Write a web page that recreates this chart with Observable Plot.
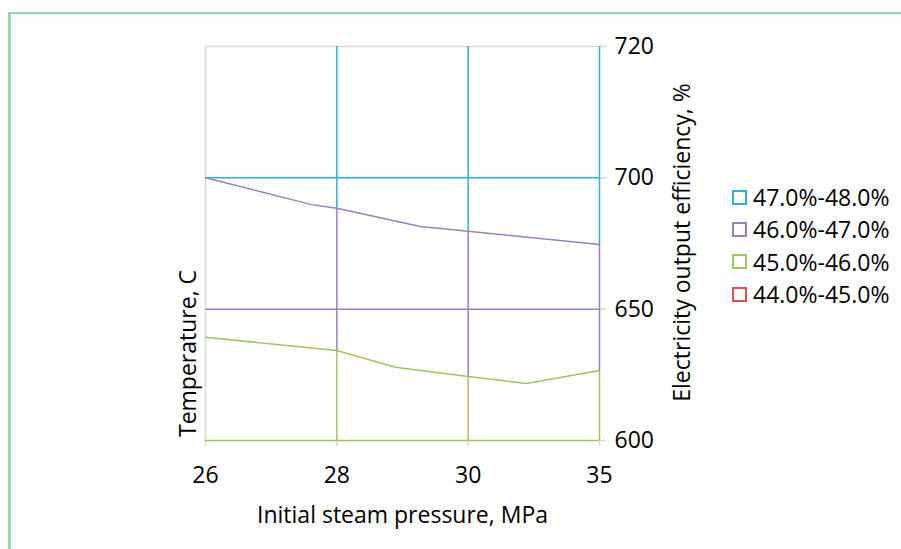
<!DOCTYPE html>
<html>
<head>
<meta charset="utf-8">
<script src="https://cdn.jsdelivr.net/npm/d3@7"></script>
<script src="https://cdn.jsdelivr.net/npm/@observablehq/plot@0.6"></script>
<style>
  html, body { margin: 0; padding: 0; background: #fff; }
  #wrap { position: relative; width: 901px; height: 549px; overflow: hidden; font-family: "Open Sans", sans-serif; }
  #frame { position: absolute; left: 8px; top: 12px; right: -10px; bottom: -10px; border-left: 3px solid #93d8b0; border-top: 2px solid #93d8b0; }
  #chart { position: absolute; left: 0; top: 0; }
  #legend { position: absolute; left: 732px; top: 181px; }
  .item { display: flex; align-items: center; height: 32.3px; font-size: 23px; color: #000; white-space: nowrap; }
  .sw { width: 11px; height: 11px; border: 2px solid; margin-right: 6px; flex: none; }
</style>
</head>
<body>
<div id="wrap">
  <div id="frame"></div>
  <div id="chart"></div>
  <div id="legend"></div>
</div>
<script>
// Category axes (evenly spaced, as in the original surface chart)
const pressureLabels = [26, 28, 30, 35];          // x categories, MPa
const temperatureLabels = [600, 650, 700, 720];   // y categories, C

// Legend bands
const bandNames = ["47.0%-48.0%", "46.0%-47.0%", "45.0%-46.0%", "44.0%-45.0%"];
const bandColors = ["#27b4d4", "#9b7ec0", "#9bc75e", "#e05252"];

// Contour between 47-48% and 46-47% bands (x, y in category-index units)
const upperX = [0, 0.807, 1, 1.636, 2, 3];
const upperY = [2.0, 1.796, 1.768, 1.629, 1.594, 1.492];
// Contour between 46-47% and 45-46% bands
const lowerX = [0, 1, 1.446, 2, 2.443, 3];
const lowerY = [0.786, 0.685, 0.558, 0.487, 0.434, 0.533];

const xIdx = pressureLabels.map((d, i) => i);
const yIdx = temperatureLabels.map((d, i) => i);
const yTop = yIdx[yIdx.length - 1];
const xEnd = xIdx[xIdx.length - 1];

const upper = upperX.map((x, i) => ({x, y: upperY[i]}));
const lower = lowerX.map((x, i) => ({x, y: lowerY[i]}));
const at = (xs, ys, v) => ys[xs.indexOf(v)];

// coloured wireframe: vertical grid segments split by contours
const vSegs = [];
xIdx.slice(1).forEach(i => {
  const u = at(upperX, upperY, i), l = at(lowerX, lowerY, i);
  vSegs.push({x: i, y1: yTop, y2: u, c: bandColors[0]});
  vSegs.push({x: i, y1: u, y2: l, c: bandColors[1]});
  vSegs.push({x: i, y1: l, y2: 0, c: bandColors[2]});
});
// horizontal grid rows: 700 -> band 0, 650 -> band 1, 600 -> band 2
const hSegs = [
  {y: 2, c: bandColors[0]},
  {y: 1, c: bandColors[1]},
  {y: 0, c: bandColors[2]}
];

const grey = "#d9d9d9";
const chart = Plot.plot({
  width: 901,
  height: 549,
  marginLeft: 205,
  marginRight: 302,
  marginTop: 46,
  marginBottom: 109,
  x: {domain: [0, xEnd], axis: null},
  y: {domain: [0, yTop], axis: null},
  style: {fontFamily: "Open Sans, sans-serif", fontSize: "23px", color: "#000", background: "transparent"},
  marks: [
    Plot.ruleX([0], {y1: 0, y2: yTop, stroke: grey, strokeWidth: 1.5}),
    Plot.ruleY([yTop], {x1: 0, x2: xEnd, stroke: grey, strokeWidth: 1.5}),
    Plot.axisX(xIdx, {anchor: "bottom", tickSize: 6, tickPadding: 20, stroke: grey, strokeWidth: 1.5, fill: "#000",
      tickFormat: i => String(pressureLabels[i]), fontSize: 23, label: null}),
    Plot.axisY(yIdx, {anchor: "right", tickSize: 6, tickPadding: 9, stroke: grey, strokeWidth: 1.5, fill: "#000",
      tickFormat: i => String(temperatureLabels[i]), fontSize: 23, label: null}),
    Plot.ruleY(hSegs, {y: "y", x1: 0, x2: xEnd, stroke: "c", strokeWidth: 1.5}),
    Plot.ruleX(vSegs, {x: "x", y1: "y1", y2: "y2", stroke: "c", strokeWidth: 1.5}),
    Plot.line(upper, {x: "x", y: "y", stroke: bandColors[1], strokeWidth: 1.5}),
    Plot.line(lower, {x: "x", y: "y", stroke: bandColors[2], strokeWidth: 1.5}),
    Plot.text(["Initial steam pressure, MPa"], {frameAnchor: "bottom", textAnchor: "middle", lineAnchor: "middle",
      dy: 75, fill: "#000", fontSize: 23}),
    Plot.text(["Temperature, C"], {frameAnchor: "left", textAnchor: "middle", lineAnchor: "middle",
      dx: -17, dy: 110, rotate: -90, fill: "#000", fontSize: 23}),
    Plot.text(["Electricity output efficiency, %"], {frameAnchor: "right", textAnchor: "middle", lineAnchor: "middle",
      dx: 83, dy: -1, rotate: -90, fill: "#000", fontSize: 23})
  ]
});
document.getElementById("chart").appendChild(chart);

const legend = document.getElementById("legend");
bandNames.forEach((name, i) => {
  const row = document.createElement("div");
  row.className = "item";
  const sw = document.createElement("span");
  sw.className = "sw";
  sw.style.borderColor = bandColors[i];
  const t = document.createElement("span");
  t.textContent = name;
  row.appendChild(sw);
  row.appendChild(t);
  legend.appendChild(row);
});
</script>
</body>
</html>
